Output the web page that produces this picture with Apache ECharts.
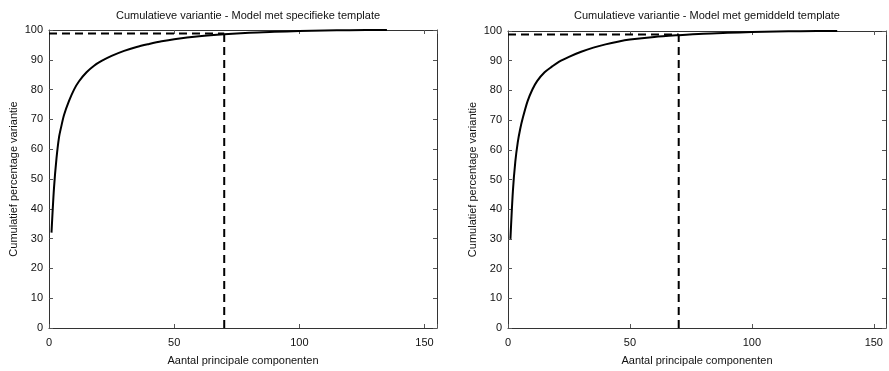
<!DOCTYPE html>
<html>
<head>
<meta charset="utf-8">
<script src="https://cdn.jsdelivr.net/npm/echarts@6/dist/echarts.min.js"></script>
<style>
html,body{margin:0;padding:0;background:#fff;}
#chart{width:889px;height:371px;}
</style>
</head>
<body>
<div id="chart"></div>
<script>
const titles = ["Cumulatieve variantie - Model met specifieke template", "Cumulatieve variantie - Model met gemiddeld template"];
const xAxisName = "Aantal principale componenten";
const yAxisName = "Cumulatief percentage variantie";

const componentsLeft = [1,2,3,4,5,6,8,10,12,15,18,21,25,30,35,40,45,50,60,70,80,90,100,110,120,135];
const varianceLeft   = [32,47,57,64,68,71.5,76.2,80,82.8,85.8,88,89.6,91.3,93,94.3,95.3,96.2,96.9,97.9,98.6,99.1,99.4,99.65,99.85,99.95,100];

const componentsRight = [1,2,3,4,5,6,8,10,12,15,18,21,25,30,35,40,45,50,60,70,80,90,100,110,120,135];
const varianceRight   = [30,46,56,62.5,67,70.5,76.3,80.3,83.2,86.1,88,89.7,91.3,93,94.4,95.5,96.4,97.1,98,98.6,99.1,99.4,99.65,99.85,99.95,100];

const thresholdComponent = 70;
const thresholdVariance = 98.8;

const xMin = 0, xMax = 155, xInterval = 50;
const yMin = 0, yMax = 100, yInterval = 10;

const chart = echarts.init(document.getElementById('chart'), null, {renderer:'canvas'});
const FONT = 'Liberation Sans, Arial, Helvetica, sans-serif';
const LINE = '#333';

const grids = [
  {left:49, right:452, top:30, bottom:36},
  {left:508, right:-8, top:31, bottom:35}
];

function zip(xs, ys){ return xs.map((x,i)=>[x, ys[i]]); }

const xAxes = [], yAxes = [], series = [];
[0,1].forEach(g=>{
  const common = {gridIndex:g, type:'value', splitLine:{show:false},
    axisLine:{show:true, onZero:false, lineStyle:{color:LINE, width:1}},
    axisTick:{show:true, inside:true, length:4, lineStyle:{color:'#555'}}};
  xAxes.push(Object.assign({}, common, {position:'bottom', min:xMin, max:xMax, interval:xInterval,
    name:xAxisName, nameLocation:'middle', nameGap:27,
    nameTextStyle:{fontFamily:FONT, fontSize:11, color:'#111'},
    axisLabel:{fontFamily:FONT, fontSize:11, color:'#111', margin:9,
      formatter:v=> (v % xInterval === 0 ? String(v) : '')}}));
  xAxes.push(Object.assign({}, common, {position:'top', min:xMin, max:xMax, interval:xInterval,
    axisLabel:{show:false}}));
  yAxes.push(Object.assign({}, common, {position:'left', min:yMin, max:yMax, interval:yInterval,
    name:yAxisName, nameLocation:'middle', nameGap:30,
    nameTextStyle:{fontFamily:FONT, fontSize:11, color:'#111'},
    axisLabel:{fontFamily:FONT, fontSize:11, color:'#111', margin:6}}));
  yAxes.push(Object.assign({}, common, {position:'right', min:yMin, max:yMax, interval:yInterval,
    axisLabel:{show:false}}));
});

const datasets = [zip(componentsLeft, varianceLeft), zip(componentsRight, varianceRight)];
[0,1].forEach(g=>{
  series.push({type:'line', xAxisIndex:g*2, yAxisIndex:g*2, data:datasets[g], smooth:0.3,
    showSymbol:false, lineStyle:{color:'#000', width:2}, silent:true, z:3});
  series.push({type:'line', xAxisIndex:g*2, yAxisIndex:g*2,
    data:[[xMin, thresholdVariance],[thresholdComponent, thresholdVariance]],
    showSymbol:false, lineStyle:{color:'#000', width:2, type:[8,5]}, silent:true, z:2});
  series.push({type:'line', xAxisIndex:g*2, yAxisIndex:g*2,
    data:[[thresholdComponent, yMin],[thresholdComponent, thresholdVariance]],
    showSymbol:false, lineStyle:{color:'#000', width:2, type:[8,5]}, silent:true, z:2});
});

chart.setOption({
  animation:false,
  backgroundColor:'#fff',
  title:[
    {text:titles[0], left:243, top:5, textAlign:'center', textStyle:{fontFamily:FONT, fontSize:11, fontWeight:'normal', color:'#111'}},
    {text:titles[1], left:702, top:5, textAlign:'center', textStyle:{fontFamily:FONT, fontSize:11, fontWeight:'normal', color:'#111'}}
  ],
  grid: grids,
  xAxis: xAxes,
  yAxis: yAxes,
  series: series
});
</script>
</body>
</html>
